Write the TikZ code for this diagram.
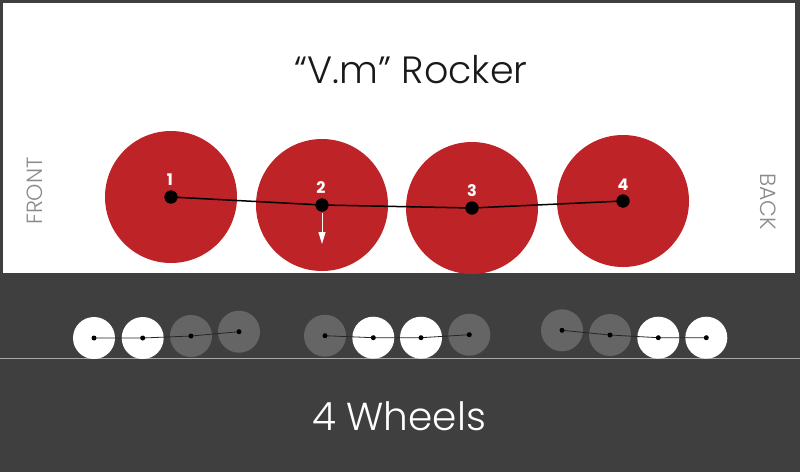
\documentclass[tikz,border=0pt]{standalone}
\usepackage{fontspec}
\setmainfont{Poppins}
\newfontfamily\lightfont{Poppins Light}
\usetikzlibrary{arrows.meta}
\definecolor{bgdark}{HTML}{3F3F3F}
\definecolor{wheelred}{HTML}{BE2328}
\definecolor{wheelgray}{HTML}{656565}
\definecolor{groundline}{HTML}{A8A8A8}
\definecolor{sidetext}{HTML}{8A8A8A}
\tikzset{
  bigwheel/.style={circle,fill=wheelred,minimum size=132pt,inner sep=0pt,draw=none},
  bighub/.style={circle,fill=black,minimum size=13pt,inner sep=0pt},
  smallwhite/.style={circle,fill=white,minimum size=42pt,inner sep=0pt},
  smallgray/.style={circle,fill=wheelgray,minimum size=42pt,inner sep=0pt},
  smallhub/.style={circle,fill=black,minimum size=5pt,inner sep=0pt},
  numlabel/.style={text=white,font=\fontsize{16}{16}\selectfont\bfseries,inner sep=0pt},
  axle/.style={line width=1.5pt,black},
  smallaxle/.style={line width=0.8pt,black!85},
}
\begin{document}
\begin{tikzpicture}[x=1pt,y=-1pt]
\useasboundingbox (0,0) rectangle (800,472);
\fill[bgdark] (0,0) rectangle (800,472);
\fill[white] (3,3) rectangle (795,273);
\draw[groundline,line width=1pt] (0,358.7) -- (800,358.7);

% title
\node[text=black!90,font=\lightfont\fontsize{38}{38}\selectfont] (title) at (411,70) {“V.m” Rocker};
\node[text=sidetext,font=\lightfont\fontsize{22}{22}\selectfont,rotate=90] (front) at (34.5,191) {FRONT};
\node[text=sidetext,font=\lightfont\fontsize{22}{22}\selectfont,rotate=-90] (back) at (768.5,201.7) {BACK};

% big wheels
\node[bigwheel] (w1) at (171,197) {};
\node[bigwheel] (w2) at (322,205) {};
\node[bigwheel] (w3) at (472,208) {};
\node[bigwheel] (w4) at (623,201) {};
\node[bighub] (h1) at (w1.center) {};
\node[bighub] (h2) at (w2.center) {};
\node[bighub] (h3) at (w3.center) {};
\node[bighub] (h4) at (w4.center) {};
\draw[axle] (h1.center) -- (h2.center) -- (h3.center) -- (h4.center);
\node[bighub] at (w1.center) {};
\node[bighub] at (w2.center) {};
\node[bighub] at (w3.center) {};
\node[bighub] at (w4.center) {};
\node[numlabel] (n1) at (170,180) {1};
\node[numlabel] (n2) at (321,188) {2};
\node[numlabel] (n3) at (472,191) {3};
\node[numlabel] (n4) at (623,185) {4};
\coordinate (arrS) at (322,213);
\coordinate (arrE) at (322,244);
\draw[white,line width=1pt,-{Triangle[width=7pt,length=12pt]}] (arrS) -- (arrE);

% small wheels group 1
\node[smallwhite] (a1) at (94,338) {};
\node[smallwhite] (a2) at (142.7,338) {};
\node[smallgray] (a3) at (191,336) {};
\node[smallgray] (a4) at (239,331.7) {};
\draw[smallaxle] (a1.center) -- (a2.center) -- (a3.center) -- (a4.center);
\foreach \n in {a1,a2,a3,a4} \node[smallhub] at (\n.center) {};

% group 2
\node[smallgray] (b1) at (325,335.7) {};
\node[smallwhite] (b2) at (373.3,337.7) {};
\node[smallwhite] (b3) at (421,337.7) {};
\node[smallgray] (b4) at (469.3,334.7) {};
\draw[smallaxle] (b1.center) -- (b2.center) -- (b3.center) -- (b4.center);
\foreach \n in {b1,b2,b3,b4} \node[smallhub] at (\n.center) {};

% group 3
\node[smallgray] (c1) at (562,330.3) {};
\node[smallgray] (c2) at (610,335) {};
\node[smallwhite] (c3) at (658.3,337.7) {};
\node[smallwhite] (c4) at (706.3,337.7) {};
\draw[smallaxle] (c1.center) -- (c2.center) -- (c3.center) -- (c4.center);
\foreach \n in {c1,c2,c3,c4} \node[smallhub] at (\n.center) {};

\node[text=white,font=\lightfont\fontsize{39}{39}\selectfont] (foot) at (399,416) {4 Wheels};
\end{tikzpicture}
\end{document}
